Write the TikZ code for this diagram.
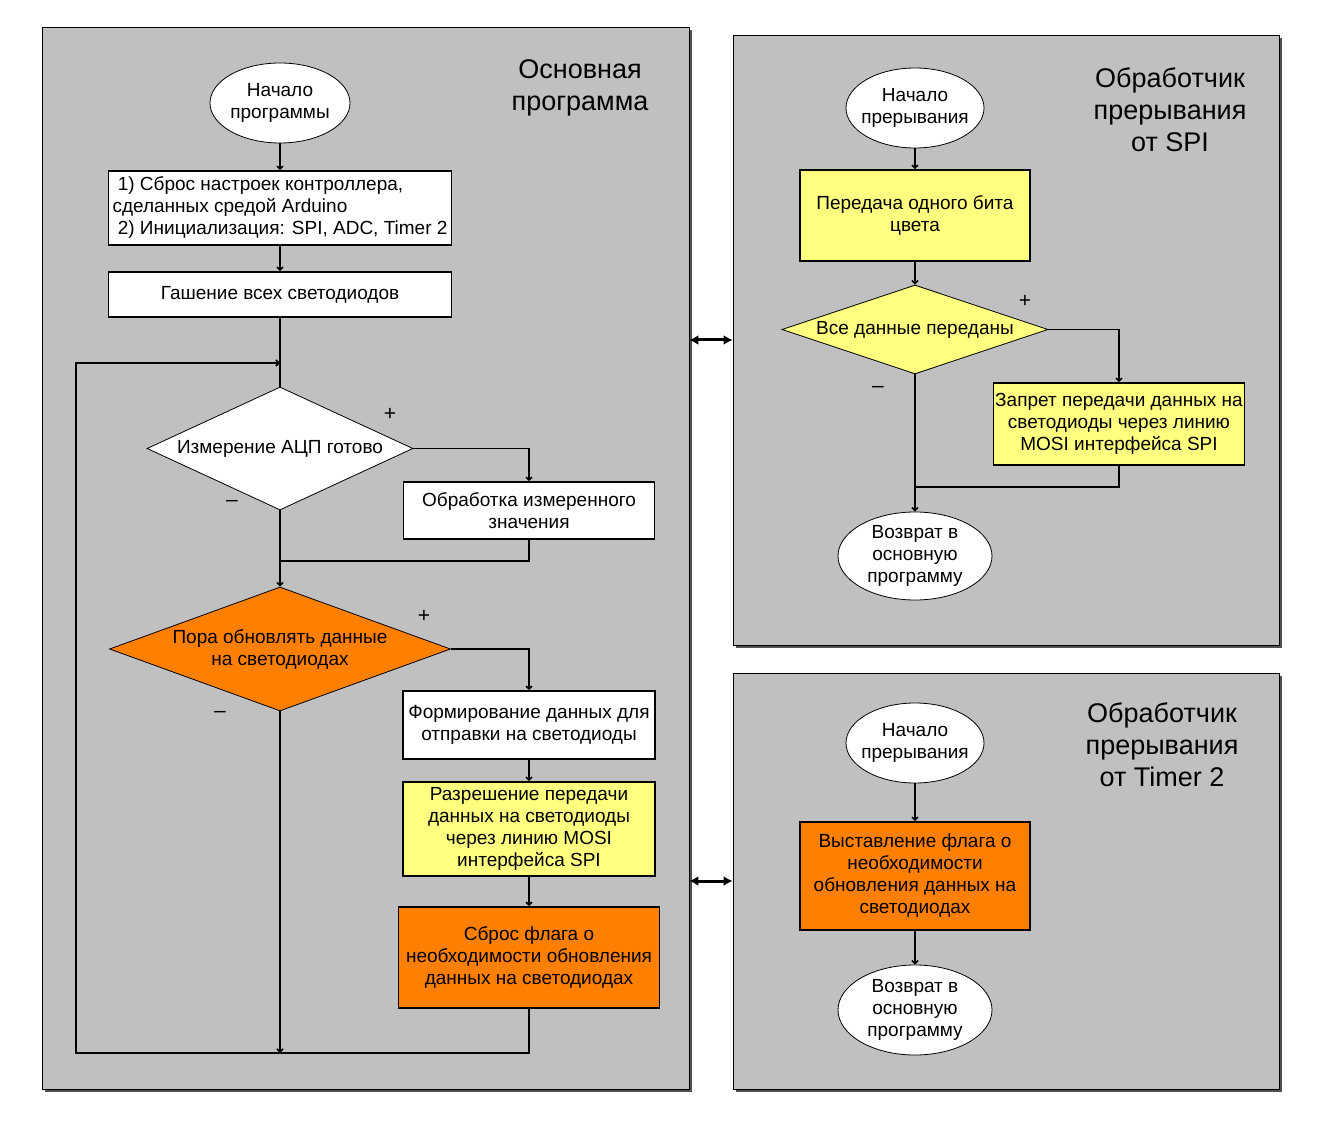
\documentclass[tikz,border=0pt]{standalone}
\usepackage{fontspec}
\setmainfont{Liberation Sans}
\usetikzlibrary{shapes.geometric,arrows.meta,shadows}
\definecolor{panelgray}{HTML}{C0C0C0}
\definecolor{shadowgray}{HTML}{505050}
\definecolor{boxyellow}{HTML}{FFFF80}
\definecolor{boxorange}{HTML}{FF8000}

\begin{document}
\begin{tikzpicture}[x=1pt, y=-1pt,
    every node/.style={font=\fontsize{19}{22}\selectfont, inner sep=0pt},
    panel/.style={draw, fill=panelgray, line width=0.8pt,
      drop shadow={shadow xshift=3pt, shadow yshift=-3pt, fill=shadowgray, opacity=1}},
    title/.style={font=\fontsize{27}{32}\selectfont, align=center},
    block/.style={draw, line width=1.6pt, align=center},
    decision/.style={diamond, draw, line width=0.8pt, align=center},
    terminal/.style={ellipse, draw, fill=white, line width=0.8pt, align=center, inner xsep=-5pt},
    sign/.style={font=\fontsize{21}{21}\selectfont},
    conn/.style={line width=1.6pt, -{Straight Barb[length=3pt,width=6pt]}},
    wire/.style={line width=1.6pt},
    link/.style={line width=3pt, {Latex[length=9pt,width=10pt]}-{Latex[length=9pt,width=10pt]}}]
      \useasboundingbox (0,0) rectangle (1323,1123);
      \node[panel, minimum width=647, minimum height=1062] (main) at (365.5,558) {};
      \node[panel, minimum width=546, minimum height=610] (spi) at (1006,340) {};
      \node[panel, minimum width=546, minimum height=416] (tmr) at (1006,881) {};
      \node[title] (mainT) at (580,88) {Основная\\программа};
      \node[title] (spiT) at (1170,110) {Обработчик\\прерывания\\от SPI};
      \node[title] (tmrT) at (1162,745) {Обработчик\\прерывания\\от Timer 2};
      \node[terminal, minimum width=140, minimum height=80] (start) at (280,103) {Начало\\программы};
      \node[block, fill=white, minimum width=343, minimum height=74, align=left] (init) at (280,208) {\ 1) Сброс настроек контроллера,\\сделанных средой Arduino\\\ 2) Инициализация: SPI, ADC, Timer 2};
      \node[block, fill=white, minimum width=343, minimum height=45] (clear) at (280,294.5) {Гашение всех светодиодов};
      \coordinate (loopin) at (280,363);
      \node[decision, fill=white, minimum width=266, minimum height=123, aspect=2] (adc) at (280,448.5) {Измерение АЦП готово};
      \node[sign] (adcY) at (390,414) {+};
      \node[sign] (adcN) at (232,503) {--};
      \node[block, fill=white, minimum width=251, minimum height=57] (proc) at (529,510.5) {Обработка измеренного\\значения};
      \coordinate (adcJ) at (280,561);
      \node[decision, fill=boxorange, minimum width=341, minimum height=124, aspect=2.75] (upd) at (280,649) {Пора обновлять данные\\на светодиодах};
      \node[sign] (updY) at (424,616) {+};
      \node[sign] (updN) at (220,714) {--};
      \node[block, fill=white, minimum width=252, minimum height=68] (form) at (529,725) {Формирование данных для\\отправки на светодиоды};
      \node[block, fill=boxyellow, minimum width=252, minimum height=94] (enable) at (529,829) {Разрешение передачи\\данных на светодиоды\\через линию MOSI\\интерфейса SPI};
      \node[block, fill=boxorange, minimum width=261, minimum height=101] (reset) at (529,957.5) {Сброс флага о\\необходимости обновления\\данных на светодиодах};
      \coordinate (updJ) at (280,1053);
      \coordinate (loopC) at (76,1053);
      \node[terminal, minimum width=138, minimum height=80] (spiS) at (915,108) {Начало\\прерывания};
      \node[block, fill=boxyellow, minimum width=230, minimum height=91] (bit) at (915,215.5) {Передача одного бита\\цвета};
      \node[decision, fill=boxyellow, minimum width=266, minimum height=89, aspect=3] (done) at (915,329.5) {Все данные переданы};
      \node[sign] (doneY) at (1025,301) {+};
      \node[sign] (doneN) at (878,389) {--};
      \node[block, fill=boxyellow, minimum width=251, minimum height=82] (stop) at (1119,424) {Запрет передачи данных на\\светодиоды через линию\\MOSI интерфейса SPI};
      \coordinate (doneJ) at (915,487);
      \node[terminal, minimum width=154, minimum height=88] (spiE) at (915,556) {Возврат в\\основную\\программу};
      \node[terminal, minimum width=138, minimum height=80] (tmrS) at (915,743) {Начало\\прерывания};
      \node[block, fill=boxorange, minimum width=230, minimum height=108] (flag) at (915,876) {Выставление флага о\\необходимости\\обновления данных на\\светодиодах};
      \node[terminal, minimum width=154, minimum height=90] (tmrE) at (915,1010) {Возврат в\\основную\\программу};
      \draw[conn] (start) -- (init);
      \draw[conn] (init) -- (clear);
      \draw[wire] (clear) -- (adc);
      \draw[conn] (adc.east) -| (proc.north);
      \draw[wire] (proc.south) |- (adcJ);
      \draw[conn] (adc.south) -- (upd.north);
      \draw[conn] (upd.east) -| (form.north);
      \draw[conn] (form) -- (enable);
      \draw[conn] (enable) -- (reset);
      \draw[conn] (upd.south) -- (updJ);
      \draw[wire] (reset.south) |- (updJ);
      \draw[conn] (updJ) -- (loopC) |- (loopin);
      \draw[conn] (spiS) -- (bit);
      \draw[conn] (bit) -- (done);
      \draw[conn] (done.east) -| (stop.north);
      \draw[wire] (stop.south) |- (doneJ);
      \draw[conn] (done.south) -- (spiE.north);
      \draw[conn] (tmrS) -- (flag);
      \draw[conn] (flag) -- (tmrE);
      \draw[link] (main.east |- spi.west) -- (spi.west);
      \draw[link] (main.east |- tmr.west) -- (tmr.west);
    \end{tikzpicture}
\end{document}
